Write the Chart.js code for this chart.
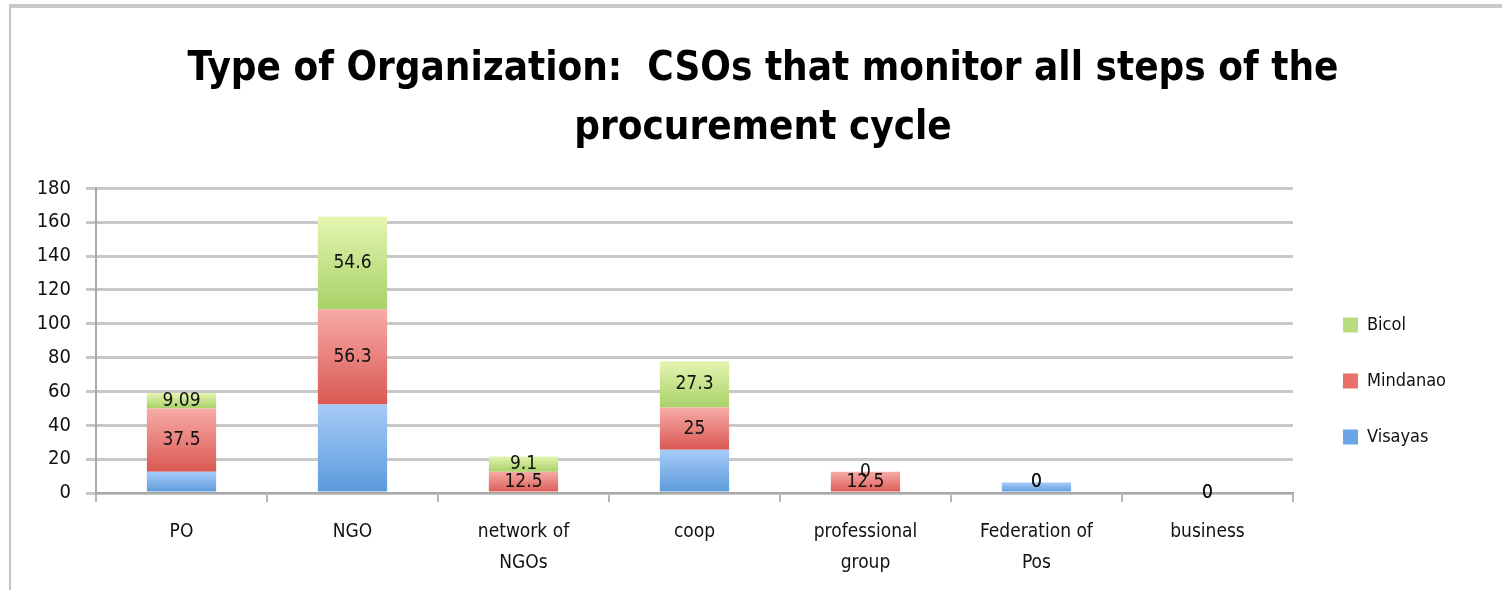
<!DOCTYPE html>
<html>
<head>
<meta charset="utf-8">
<script src="https://cdn.jsdelivr.net/npm/chart.js@4/dist/chart.umd.min.js"></script>
<style>
  html, body { margin: 0; padding: 0; background: #fff; }
  #wrap { position: absolute; left: 0; top: 0; width: 1502px; height: 590px; }
  #frame { position: absolute; left: 9px; top: 4px; width: 1493px; height: 586px; border-top: 4px solid #c9c9c9; border-left: 2px solid #c4c4c4; pointer-events: none; }
</style>
</head>
<body>
<div id="wrap"><canvas id="c"></canvas></div>
<div id="frame"></div>
<script>
const categories = ['PO', 'NGO', ['network of', 'NGOs'], 'coop', ['professional', 'group'], ['Federation of', 'Pos'], 'business'];
const visayas  = [12.5, 52.3, 0, 25.5, 0, 6.25, 0];
const mindanao = [37.5, 56.3, 12.5, 25, 12.5, 0, 0];
const bicol    = [9.09, 54.6, 9.1, 27.3, 0, 0, 0];
const seriesNames = ['Visayas', 'Mindanao', 'Bicol'];
const yTicks = [0, 20, 40, 60, 80, 100, 120, 140, 160, 180];

const series = [visayas, mindanao, bicol];
const solidColors = ['#6aa5e6', '#e9706b', '#b9dd7e'];
const FONT = "'Liberation Sans Narrow', 'DejaVu Sans Condensed', 'Liberation Sans', sans-serif";

function grad(idx, top, bottom) {
  return function (ctx) {
    const chart = ctx.chart;
    const solid = solidColors[idx];
    if (ctx.type !== 'data') return solid;
    const y = chart.scales && chart.scales.y;
    if (!y) return solid;
    let start = 0;
    for (let d = 0; d < idx; d++) start += series[d][ctx.dataIndex];
    const end = start + series[idx][ctx.dataIndex];
    const y0 = y.getPixelForValue(start), y1 = y.getPixelForValue(end);
    if (!isFinite(y0) || !isFinite(y1) || y0 === y1) return solid;
    const g = chart.ctx.createLinearGradient(0, y1, 0, y0);
    g.addColorStop(0, top);
    g.addColorStop(1, bottom);
    return g;
  };
}

const labelPlugin = {
  id: 'segLabels',
  afterDatasetsDraw(chart) {
    const ctx = chart.ctx;
    ctx.save();
    ctx.font = "19px " + FONT;
    ctx.fillStyle = '#111';
    ctx.textAlign = 'center';
    ctx.textBaseline = 'middle';
    [1, 2].forEach(di => {
      const meta = chart.getDatasetMeta(di);
      meta.data.forEach((el, i) => {
        const v = series[di][i];
        const yMid = (el.y + el.base) / 2;
        ctx.fillText(String(v), el.x, yMid);
      });
    });
    ctx.restore();
  }
};

const boxShift = {
  id: 'boxShift',
  afterLayout(chart) {
    const lg = chart.legend;
    if (lg) { lg.left += 12; lg.right += 12; lg.top += 86; lg.bottom += 86; }
    const tt = chart.titleBlock;
    if (tt) { tt.left += 35; tt.right += 35; }
  }
};

new Chart(document.getElementById('c'), {
  type: 'bar',
  data: {
    labels: categories,
    datasets: [
      { label: seriesNames[0], data: visayas, backgroundColor: grad(0, '#a6cbf8', '#5a9ada') },
      { label: seriesNames[1], data: mindanao, backgroundColor: grad(1, '#f7aba7', '#da5852') },
      { label: seriesNames[2], data: bicol, backgroundColor: grad(2, '#e4f5b0', '#a8d168') }
    ]
  },
  options: {
    responsive: true,
    maintainAspectRatio: false,
    animation: false,
    events: [],
    datasets: { bar: { categoryPercentage: 1, barPercentage: 0.405, borderWidth: 0 } },
    layout: { padding: { left: 12, right: 58, top: 0, bottom: 0 } },
    plugins: {
      title: {
        display: true,
        text: ['Type of Organization:  CSOs that monitor all steps of the', 'procurement cycle'],
        color: '#000',
        font: { family: FONT, size: 40, weight: 'bold', lineHeight: 1.48 },
        padding: { top: 40, bottom: 30 }
      },
      legend: {
        position: 'right',
        reverse: true,
        labels: {
          color: '#111',
          font: { family: FONT, size: 18 },
          boxWidth: 15, boxHeight: 15,
          padding: 38,
          generateLabels(chart) {
            const items = Chart.defaults.plugins.legend.labels.generateLabels(chart);
            items.forEach(it => { it.fillStyle = solidColors[it.datasetIndex]; it.strokeStyle = solidColors[it.datasetIndex]; it.lineWidth = 0; });
            return items;
          }
        }
      },
      tooltip: { enabled: false }
    },
    scales: {
      x: {
        stacked: true,
        afterFit: s => { s.height = 97; },
        grid: { display: true, drawOnChartArea: false, drawTicks: true, tickLength: 9, color: '#b5b5b5', lineWidth: 2, offset: true },
        border: { display: true, color: '#a9a9a9', width: 2 },
        ticks: { color: '#111', font: { family: FONT, size: 19, lineHeight: 1.65 }, padding: 14, maxRotation: 0, autoSkip: false }
      },
      y: {
        stacked: true,
        min: 0, max: 180,
        afterBuildTicks: s => { s.ticks = yTicks.map(v => ({ value: v })); },
        afterFit: s => { s.width = 84; },
        grid: { color: '#c8c8c8', lineWidth: 3, tickLength: 10, drawTicks: true },
        border: { display: true, color: '#a9a9a9', width: 2 },
        ticks: { color: '#111', font: { family: FONT, size: 20 }, padding: 15 }
      }
    }
  },
  plugins: [labelPlugin, boxShift]
});
</script>
</body>
</html>
